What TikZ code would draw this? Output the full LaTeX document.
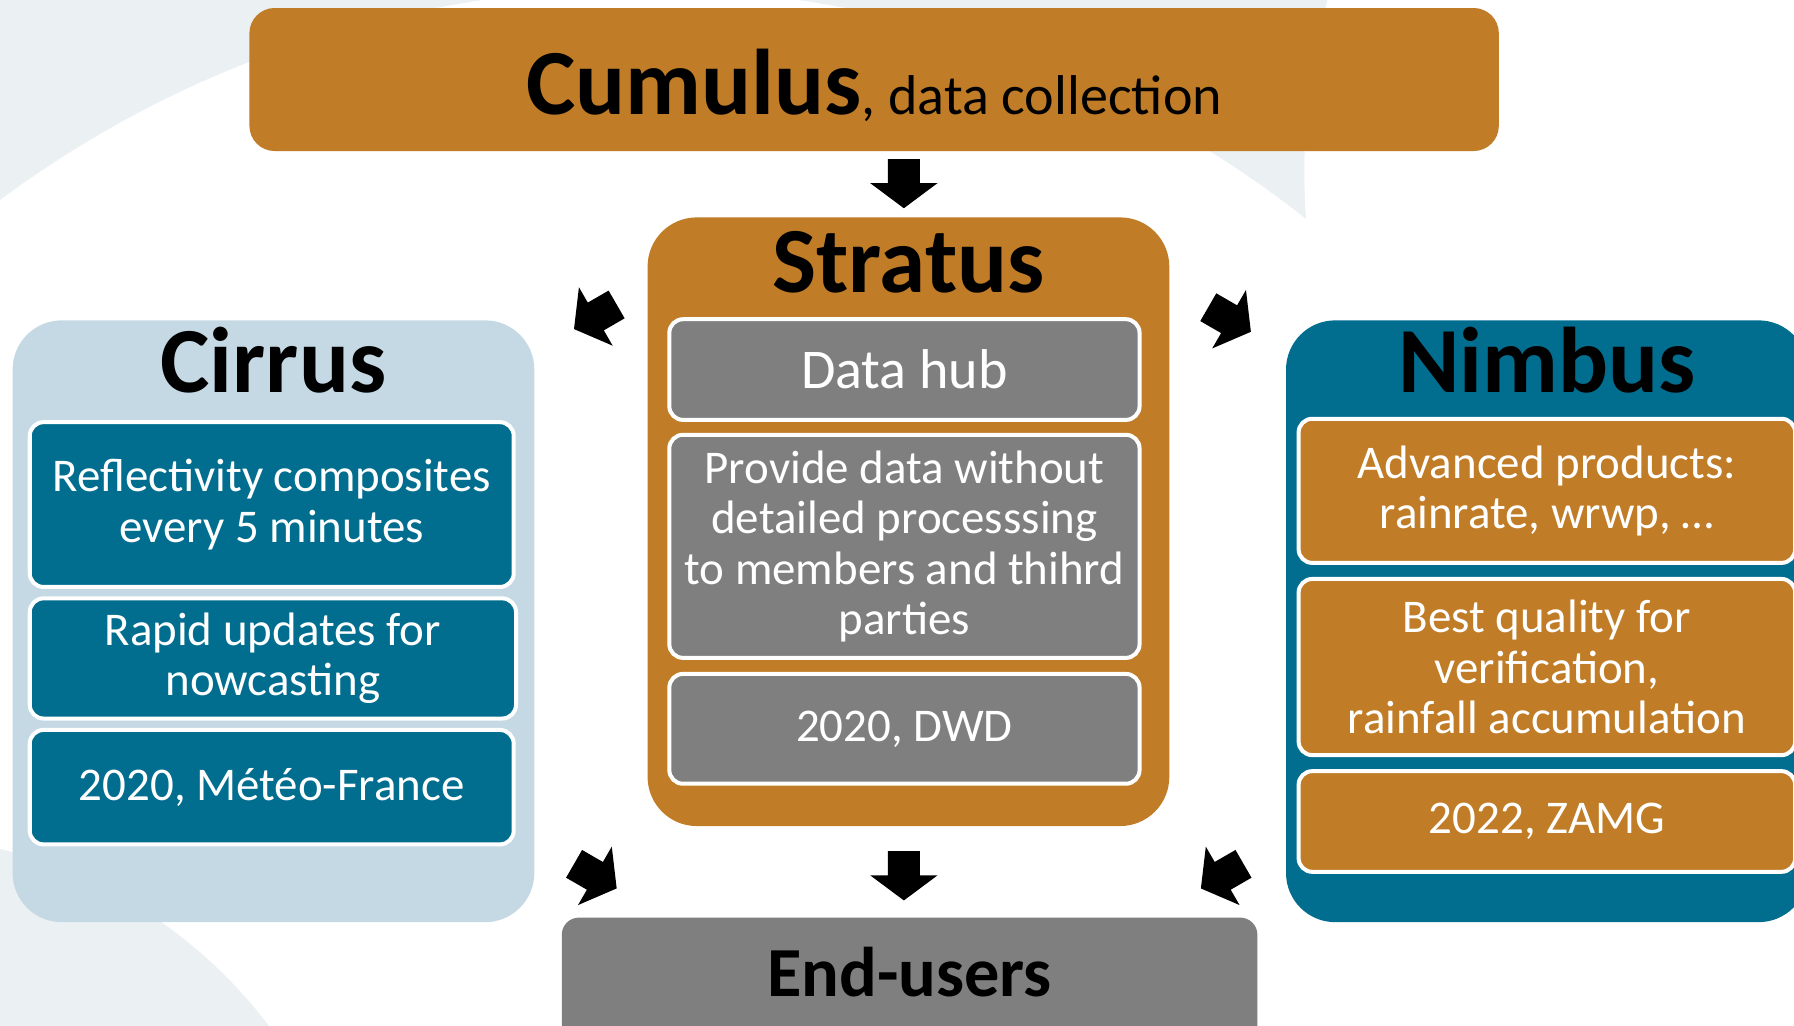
\documentclass[tikz,border=0pt]{standalone}
\usepackage{fontspec}
\setmainfont{Carlito}
\definecolor{cuorange}{HTML}{C07C26}
\definecolor{teal}{HTML}{026E8F}
\definecolor{lblue}{HTML}{C5D9E4}
\definecolor{dgray}{HTML}{7F7F7F}
\definecolor{bggray}{HTML}{EBF0F3}
\tikzset{
  outerbox/.style={rectangle, rounded corners=43pt, inner sep=0pt},
  innerbox/.style={rectangle, rounded corners=12pt, draw=white, line width=3.5pt,
     text=white, font=\fontsize{41}{44}\selectfont, align=center, inner sep=0pt},
  titletext/.style={anchor=base, font=\bfseries\fontsize{81.5}{82}\selectfont, text=black, inner sep=0pt},
  blockarrow/.pic={\fill[black] (0,0) -- (-22,-29.5) -- (-22,-14) -- (-43,-14) -- (-43,14) -- (-22,14) -- (-22,29.5) -- cycle;}
}
\begin{document}
\begin{tikzpicture}[x=1pt,y=-1pt]
\useasboundingbox (0,0) rectangle (1568,896);
\clip (0,0) rectangle (1568,896);
% background swooshes
\fill[bggray] (0,0) rectangle (1568,896);
\fill[white] (560,930) circle (940);
\fill[white] (1700,150) circle (560);
\fill[white] (1650,900) circle (260);
\fill[bggray] (-100,1150) circle (420);

% Cumulus
\node[rectangle, rounded corners=22pt, fill=cuorange, minimum width=1092pt, minimum height=125pt] (cumulus) at (764,69.5) {};
\node[anchor=base, inner sep=0pt] (cumtxt) at (764,100) {\fontsize{81.5}{82}\selectfont\bfseries Cumulus\fontsize{49}{49}\selectfont\mdseries, data collection};

% Stratus
\node[outerbox, fill=cuorange, minimum width=456pt, minimum height=532pt] (stratus) at (794,456) {};
\node[titletext] (strtitle) at (794,256) {Stratus};
\node[innerbox, fill=dgray, minimum width=411pt, minimum height=88pt, font=\fontsize{49}{50}\selectfont] (datahub) at (790.5,323) {Data hub};
\node[innerbox, fill=dgray, minimum width=411pt, minimum height=195pt] (provide) at (790.5,477.5) {Provide data without\\detailed processsing\\to members and thihrd\\parties};
\node[innerbox, fill=dgray, minimum width=411pt, minimum height=96pt] (dwd) at (790.5,637) {2020, DWD};

% Cirrus
\node[outerbox, fill=lblue, minimum width=456pt, minimum height=526pt] (cirrus) at (239,543) {};
\node[titletext] (cirtitle) at (239,343) {Cirrus};
\node[innerbox, fill=teal, minimum width=423pt, minimum height=144pt] (refl) at (237.5,441) {Reflectivity composites\\every 5 minutes};
\node[innerbox, fill=teal, minimum width=425pt, minimum height=105pt] (rapid) at (238.5,575.5) {Rapid updates for\\nowcasting};
\node[innerbox, fill=teal, minimum width=423pt, minimum height=100pt] (mf) at (237.5,688) {2020, Météo-France};

% Nimbus
\node[outerbox, fill=teal, minimum width=456pt, minimum height=526pt] (nimbus) at (1352,543) {};
\node[titletext] (nimtitle) at (1352,343) {Nimbus};
\node[innerbox, fill=cuorange, minimum width=434pt, minimum height=126pt] (adv) at (1352,429) {Advanced products:\\rainrate, wrwp, …};
\node[innerbox, fill=cuorange, minimum width=434pt, minimum height=154pt] (best) at (1352,583) {Best quality for\\verification,\\rainfall accumulation};
\node[innerbox, fill=cuorange, minimum width=434pt, minimum height=88pt] (zamg) at (1352,718) {2022, ZAMG};

% End-users
\node[rectangle, rounded corners=15pt, fill=dgray, minimum width=608pt, minimum height=158pt] (endusers) at (795,881) {};
\node[anchor=base, inner sep=0pt, font=\bfseries\fontsize{61.5}{62}\selectfont] (endtxt) at (795,871) {End-users};

% block arrows
\coordinate (atop) at (790,182);
\coordinate (abot) at (790,787);
\coordinate (atl) at (501.7,287.6);
\coordinate (atr) at (1093.3,290);
\coordinate (abl) at (539,776.5);
\coordinate (abr) at (1049.6,776.5);
\pic[rotate=270] at (atop) {blockarrow};
\pic[rotate=270] at (abot) {blockarrow};
\pic[rotate=210] at (atl) {blockarrow};
\pic[rotate=330] at (atr) {blockarrow};
\pic[rotate=330] at (abl) {blockarrow};
\pic[rotate=210] at (abr) {blockarrow};
\end{tikzpicture}
\end{document}
